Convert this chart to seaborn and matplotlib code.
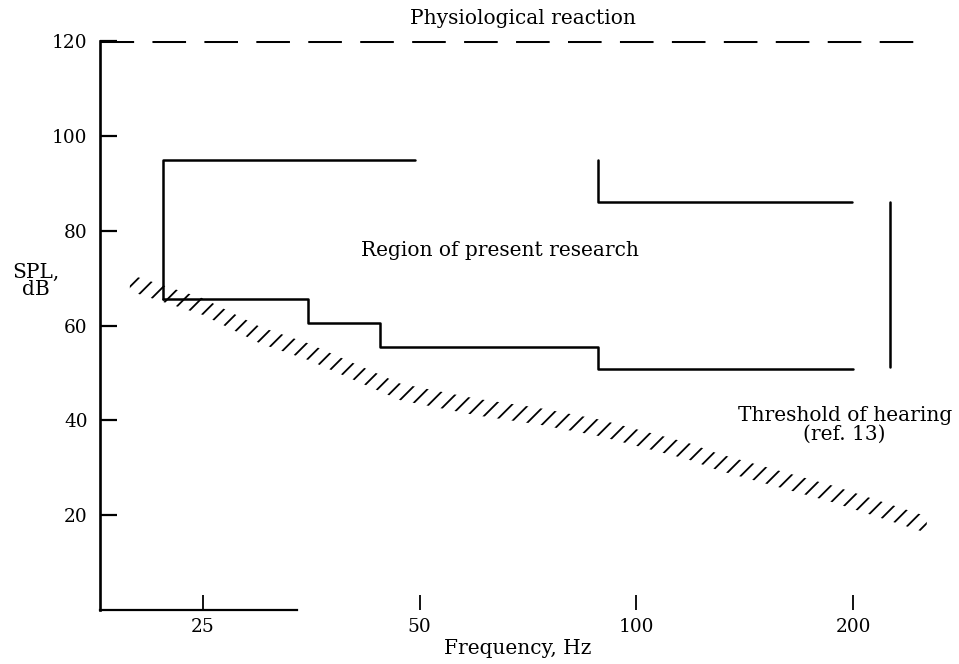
import matplotlib.pyplot as plt
import seaborn as sns
from matplotlib.ticker import NullLocator

# physiological reaction limit (dashed line at top)
reaction_freq = [18, 248]
reaction_level = [120, 120]

# region of present research
lower_freq = [22, 35, 44, 88.5, 200]
lower_level = [65.5, 60.5, 55.5, 50.8, 50.8]
upper_a_freq = [22, 22, 49.3]
upper_a_level = [65.5, 95, 95]
upper_b_freq = [88.5, 88.5, 199.5]
upper_b_level = [95, 86, 86]
right_freq = [225, 225]
right_level = [86, 51.2]

# threshold of hearing (ref. 13), centre of the hatched band
thr_freq = [19.8, 25, 30, 35, 47, 60, 73, 89, 118, 130, 187, 253]
thr_level = [69, 64, 58, 54.5, 46, 42.8, 40.9, 38.4, 33.5, 31.2, 24.5, 18]

xticks = [25, 50, 100, 200]
yticks = [20, 40, 60, 80, 100, 120]

sns.set_style("ticks", {"axes.edgecolor": "black", "text.color": "black",
                        "axes.labelcolor": "black", "xtick.color": "black",
                        "ytick.color": "black"})
plt.rcParams["font.family"] = ["DejaVu Serif"]
plt.rcParams["hatch.linewidth"] = 1.3

fig = plt.figure(figsize=(9.59, 6.64), dpi=100)
ax = fig.add_axes([0.1043, 0.0813, 0.8710, 0.8569])
ax.set_xscale("log")

lw = 1.8
sns.lineplot(x=upper_a_freq, y=upper_a_level, estimator=None, sort=False,
             color="black", lw=lw, ax=ax)
sns.lineplot(x=upper_b_freq, y=upper_b_level, estimator=None, sort=False,
             color="black", lw=lw, ax=ax)
sns.lineplot(x=right_freq, y=right_level, estimator=None, sort=False,
             color="black", lw=lw, ax=ax)
sns.lineplot(x=lower_freq, y=lower_level, estimator=None, sort=False,
             drawstyle="steps-post", color="black", lw=lw, ax=ax)
ax.plot(reaction_freq, reaction_level, color="black", lw=2.2,
        dashes=(11, 6))

band = 1.75
ax.fill_between(thr_freq, [v - band for v in thr_level],
                [v + band for v in thr_level], facecolor="none",
                edgecolor="black", linewidth=0, hatch="//")

txt = 14.5
ax.text(69.6, 124.8, "Physiological reaction", ha="center", va="center",
        fontsize=txt, clip_on=False)
ax.text(64.7, 75.9, "Region of present research", ha="center",
        va="center", fontsize=txt)
ax.text(194.6, 39.0, "Threshold of hearing\n(ref. 13)", ha="center",
        va="center", fontsize=txt, linespacing=0.95, clip_on=False)

ax.set_xlim(18, 260)
ax.set_ylim(0, 120)
ax.set_xticks(xticks)
ax.set_xticklabels([str(t) for t in xticks])
ax.set_yticks(yticks)
ax.xaxis.set_minor_locator(NullLocator())
ax.tick_params(axis="x", direction="in", length=11, width=1.3,
               labelsize=13.3, pad=6)
ax.tick_params(axis="y", direction="in", length=12, width=1.6,
               labelsize=13.3, pad=9)

for side in ["top", "right"]:
    ax.spines[side].set_visible(False)
ax.spines["left"].set_linewidth(1.9)
ax.spines["bottom"].set_linewidth(1.6)
ax.spines["bottom"].set_bounds(18, 33.8)

ax.set_xlabel("Frequency, Hz", fontsize=txt, va="center")
ax.xaxis.set_label_coords(0.50, -0.067)
ax.set_ylabel("SPL,\ndB", fontsize=txt, rotation=0, ha="center",
              va="center", linespacing=0.85)
ax.yaxis.set_label_coords(-0.077, 0.578)

fig.savefig("out.png", dpi=100)
plt.close(fig)
